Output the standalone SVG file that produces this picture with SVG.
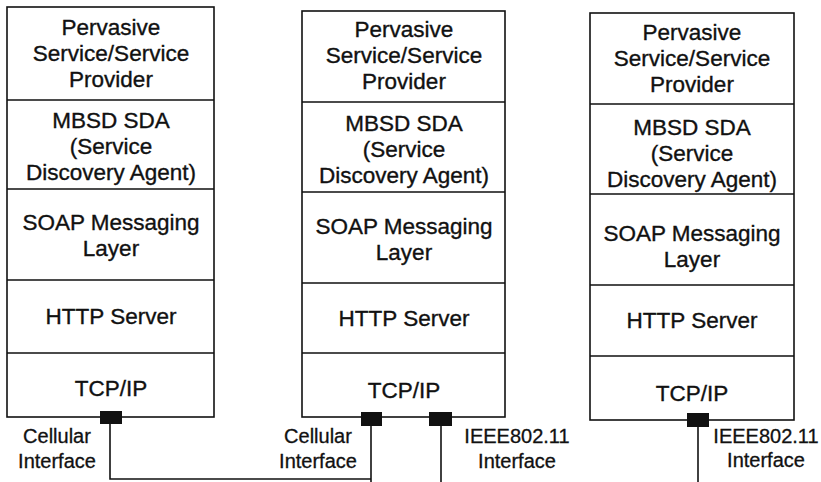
<svg xmlns="http://www.w3.org/2000/svg" width="821" height="482" viewBox="0 0 821 482">
  <style>
    .box { fill: #ffffff; stroke: #111111; stroke-width: 1.6; }
    .div { stroke: #111111; stroke-width: 1.6; fill: none; }
    .t { font-family: "Liberation Sans", Arial, sans-serif; font-size: 22.5px; fill: #111111; stroke: #111111; stroke-width: 0.35; text-anchor: middle; }
    .lbl { font-family: "Liberation Sans", Arial, sans-serif; font-size: 20px; fill: #111111; stroke: #111111; stroke-width: 0.3; text-anchor: middle; }
    .port { fill: #111111; }
    .wire { stroke: #111111; stroke-width: 1.6; fill: none; }
  </style>
  <rect width="821" height="482" fill="#ffffff"/>

  <!-- Left host: cellular-only -->
  <g id="stack-left">
    <rect class="box" x="7" y="7" width="207" height="410"/>
    <path class="div" d="M7 100H214M7 189H214M7 280H214M7 353H214"/>
    <text class="t" x="111" y="35">Pervasive</text>
    <text class="t" x="111" y="61">Service/Service</text>
    <text class="t" x="111" y="87">Provider</text>
    <text class="t" x="111" y="128">MBSD SDA</text>
    <text class="t" x="111" y="154">(Service</text>
    <text class="t" x="111" y="180">Discovery Agent)</text>
    <text class="t" x="111" y="230">SOAP Messaging</text>
    <text class="t" x="111" y="256">Layer</text>
    <text class="t" x="111" y="324">HTTP Server</text>
    <text class="t" x="111" y="396">TCP/IP</text>
    <rect class="port" x="100" y="411" width="22" height="13"/>
    <text class="lbl" x="57" y="443">Cellular</text>
    <text class="lbl" x="57" y="468">Interface</text>
  </g>

  <!-- Middle host: cellular + IEEE802.11 -->
  <g id="stack-middle">
    <rect class="box" x="302" y="11" width="203" height="406"/>
    <path class="div" d="M302 102H505M302 192H505M302 283H505M302 353H505"/>
    <text class="t" x="404" y="37">Pervasive</text>
    <text class="t" x="404" y="63">Service/Service</text>
    <text class="t" x="404" y="89">Provider</text>
    <text class="t" x="404" y="131">MBSD SDA</text>
    <text class="t" x="404" y="157">(Service</text>
    <text class="t" x="404" y="183">Discovery Agent)</text>
    <text class="t" x="404" y="234">SOAP Messaging</text>
    <text class="t" x="404" y="260">Layer</text>
    <text class="t" x="404" y="326">HTTP Server</text>
    <text class="t" x="404" y="398">TCP/IP</text>
    <rect class="port" x="361" y="412" width="21" height="14"/>
    <rect class="port" x="429" y="412" width="23" height="14"/>
    <text class="lbl" x="318" y="443">Cellular</text>
    <text class="lbl" x="318" y="468">Interface</text>
    <text class="lbl" x="517" y="443">IEEE802.11</text>
    <text class="lbl" x="517" y="468">Interface</text>
  </g>

  <!-- Right host: IEEE802.11-only -->
  <g id="stack-right">
    <rect class="box" x="590" y="13" width="204" height="407"/>
    <path class="div" d="M590 104H794M590 194H794M590 285H794M590 356H794"/>
    <text class="t" x="692" y="40">Pervasive</text>
    <text class="t" x="692" y="66">Service/Service</text>
    <text class="t" x="692" y="92">Provider</text>
    <text class="t" x="692" y="135">MBSD SDA</text>
    <text class="t" x="692" y="161">(Service</text>
    <text class="t" x="692" y="187">Discovery Agent)</text>
    <text class="t" x="692" y="241">SOAP Messaging</text>
    <text class="t" x="692" y="267">Layer</text>
    <text class="t" x="692" y="328">HTTP Server</text>
    <text class="t" x="692" y="401">TCP/IP</text>
    <rect class="port" x="687" y="413" width="22" height="14"/>
    <text class="lbl" x="766" y="443">IEEE802.11</text>
    <text class="lbl" x="766" y="467">Interface</text>
  </g>

  <!-- Network links -->
  <g id="connectors">
    <path class="wire" d="M110 424V479H371"/>
    <path class="wire" d="M371 426V482"/>
    <path class="wire" d="M441 426V482"/>
    <path class="wire" d="M698 427V482"/>
  </g>
</svg>
